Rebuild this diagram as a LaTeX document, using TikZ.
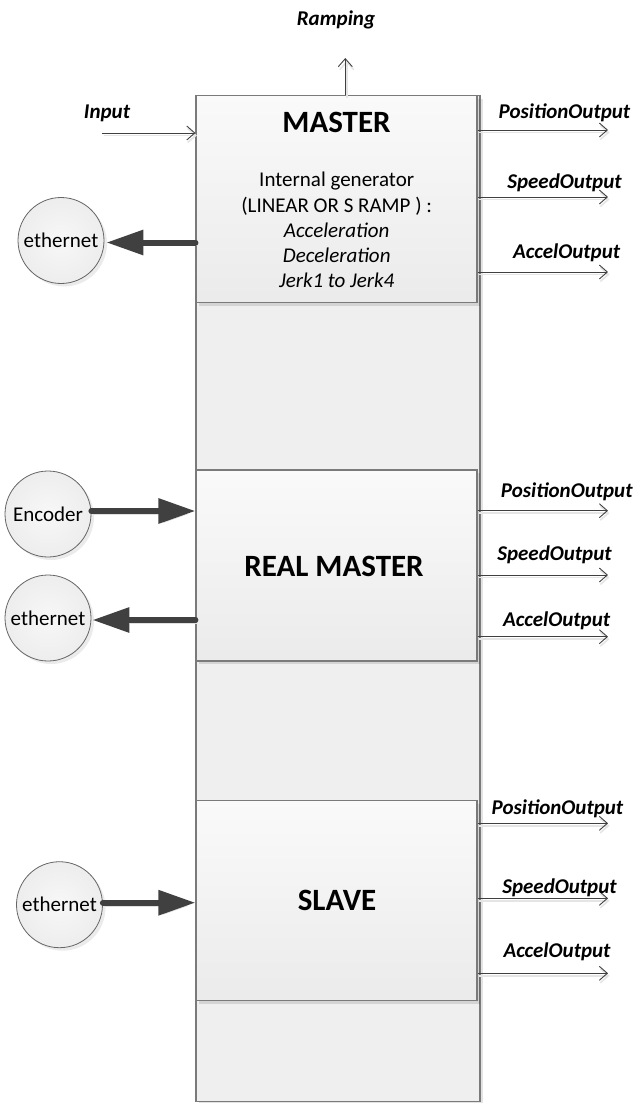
\documentclass[tikz,border=0pt]{standalone}
\usepackage{fontspec}
\setmainfont{Carlito}
\usetikzlibrary{arrows.meta,shadows,calc}
\definecolor{edge}{HTML}{7A7A7A}
\definecolor{ink}{HTML}{404040}
\definecolor{panel}{HTML}{EFEFEF}
\begin{document}
\begin{tikzpicture}[x=1pt,y=-1pt,
  softshadow/.style={drop shadow={shadow xshift=3pt,shadow yshift=-3pt,fill=black,opacity=0.11}},
  column/.style={draw=edge,line width=1.1pt,fill=panel,inner sep=0pt,
    minimum width=284pt,minimum height=1006pt,softshadow},
  blockbox/.style={draw=edge,line width=1.1pt,top color=white!98!black,bottom color=white!92!black,
    inner sep=0pt,minimum width=281pt,softshadow},
  unit/.style={circle,draw=ink!80,line width=0.8pt,minimum size=86pt,inner sep=0pt,
    inner color=white!97!black,outer color=white!93!black,
    drop shadow={shadow xshift=3pt,shadow yshift=-3pt,fill=black,opacity=0.08},
    font=\fontsize{21}{25}\selectfont},
  title/.style={font=\fontsize{31}{37}\selectfont\bfseries,inner sep=0pt,anchor=base},
  sig/.style={font=\fontsize{21}{25}\selectfont\bfseries\itshape,inner sep=0pt,anchor=base},
  bodytext/.style={font=\fontsize{21}{25}\selectfont,inner sep=0pt,anchor=base},
  outarrow/.style={draw=ink,line width=0.9pt,-{Straight Barb[length=8pt,width=14pt]},
    preaction={draw=black!10,line width=1.6pt,transform canvas={xshift=1.5pt,yshift=-2.5pt}}},
  bigarrow/.style={draw=ink,line width=6pt,line cap=round,-{Triangle[length=37pt,width=24pt]},
    preaction={draw=black!12,transform canvas={xshift=2pt,yshift=-3pt}}}
]
\useasboundingbox (0,0) rectangle (639,1103);

% long background column
\node[column] (col) at (338,598.6) {};

% the three blocks
\node[blockbox,minimum height=207pt] (master) at (336.5,199.4) {};
\node[blockbox,minimum height=191pt] (real) at (336.5,565.5) {};
\node[blockbox,minimum height=200pt] (slave) at (336.5,900.9) {};

% titles
\node[title] (mastertitle) at (336.5,132.5) {MASTER};
\node[title] (realtitle) at (334,576.7) {REAL MASTER};
\node[title] (slavetitle) at (337,910.7) {SLAVE};

% ramp generator description
\node[bodytext] (gen1) at (336.7,186.7) {Internal generator};
\node[bodytext] (gen2) at (336.7,212) {(LINEAR OR S RAMP ) :};
\node[bodytext] (gen3) at (336.7,237) {\itshape Acceleration};
\node[bodytext] (gen4) at (336.7,262) {\itshape Deceleration};
\node[bodytext] (gen5) at (336.7,287) {\itshape Jerk1 to Jerk4};

% external units
\node[unit] (eth1) at (61,240.5) {ethernet};
\node[unit] (enc) at (48,514) {Encoder};
\node[unit] (eth2) at (48,618) {ethernet};
\node[unit] (eth3) at (59.5,904.7) {ethernet};

% thick data links
\draw[bigarrow] ($(master.west |- eth1.center)+(0,2)$) -- ($(eth1.east)+(2,2)$);
\draw[bigarrow] ($(enc.east)+(0,-3)$) -- ($(real.west |- enc.center)+(0,-3)$);
\draw[bigarrow] ($(real.west |- eth2.center)+(0,2)$) -- ($(eth2.east)+(1,2)$);
\draw[bigarrow] ($(eth3.east)+(0,-2)$) -- ($(slave.west |- eth3.center)+(0,-2)$);

% input and ramping signals
\coordinate (instart) at (102,133);
\node[sig] (inlbl) at (107,118) {Input};
\draw[outarrow] (instart) -- (master.west |- instart);
\coordinate (rampend) at (345.3,58);
\node[sig] (ramplbl) at (336,25) {Ramping};
\draw[outarrow] (master.north -| rampend) -- (rampend);

% output signals of each block
\foreach \blk/\pfx/\ya/\yb/\yc/\ta/\tb/\tc/\xa/\xb/\xc in {
    master/m/130/197/272/118/188/258/564.5/564.5/566.7,
    real/r/510.7/575/636.7/497.7/560/626/566.8/554.5/556.7,
    slave/s/823.3/898.3/973.3/814/893.3/957.3/557.5/559.5/557}{
  \coordinate (\pfx pos) at (608,\ya);
  \coordinate (\pfx spd) at (608,\yb);
  \coordinate (\pfx acc) at (608,\yc);
  \draw[outarrow] (\blk.east |- \pfx pos) -- (\pfx pos);
  \draw[outarrow] (\blk.east |- \pfx spd) -- (\pfx spd);
  \draw[outarrow] (\blk.east |- \pfx acc) -- (\pfx acc);
  \node[sig] (\pfx poslbl) at (\xa,\ta) {PositionOutput};
  \node[sig] (\pfx spdlbl) at (\xb,\tb) {SpeedOutput};
  \node[sig] (\pfx acclbl) at (\xc,\tc) {AccelOutput};
}
\end{tikzpicture}
\end{document}
